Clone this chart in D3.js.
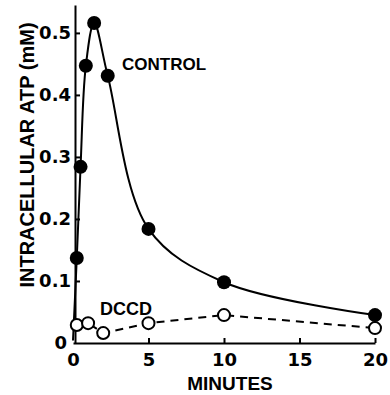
<!DOCTYPE html>
<html lang="en">
<head>
    <meta charset="UTF-8">
    <title>Intracellular ATP</title>
    <script src="https://d3js.org/d3.v7.min.js"></script>
    <style>
        body { margin: 0; background: #fff; }
        .tick text { font-family: "DejaVu Sans", sans-serif; font-weight: bold; font-size: 18px; fill: #000; }
        .lbl { font-family: "Liberation Sans", Arial, sans-serif; font-weight: bold; fill: #000; }
    </style>
</head>
<body>
<svg id="chart" width="390" height="395"></svg>
<script>
    // control cells (filled circles)
    const ctrlTime = [0.25, 0.5, 0.85, 1.4, 2.3, 5, 10, 20];
    const ctrlAtp = [0.137, 0.284, 0.447, 0.516, 0.431, 0.184, 0.098, 0.045];
    // curve starts from the origin
    const ctrlStart = [0, 0.004];

    // DCCD treated (open circles)
    const dccdTime = [0.25, 1, 2, 5, 10, 20];
    const dccdAtp = [0.029, 0.032, 0.016, 0.032, 0.045, 0.024];

    const xTicks = [0, 5, 10, 15, 20];
    const yTicks = [0, 0.1, 0.2, 0.3, 0.4, 0.5];

    const svg = d3.select("#chart");

    const x = d3.scaleLinear().domain([0, 20]).range([73, 375]);
    const y = d3.scaleLinear().domain([0, 0.545]).range([343, 5]);

    const ctrl = ctrlTime.map((t, i) => ({ t: t, v: ctrlAtp[i] }));
    const dccd = dccdTime.map((t, i) => ({ t: t, v: dccdAtp[i] }));

    // axes
    const gx = svg.append("g")
        .attr("transform", `translate(0,${y(0)})`)
        .call(d3.axisBottom(x).tickValues(xTicks).tickSize(-5).tickSizeOuter(0).tickPadding(10)
            .tickFormat(d3.format("d")));
    gx.selectAll(".tick").filter(d => d === 0).select("line").remove();

    const gy = svg.append("g")
        .attr("transform", `translate(75,0)`)
        .call(d3.axisLeft(y).tickValues(yTicks).tickSize(-5).tickSizeOuter(0).tickPadding(4)
            .tickFormat(d => d === 0 ? "0" : d.toFixed(1)));
    gy.selectAll(".tick").filter(d => d === 0).select("line").remove();
    gy.selectAll(".tick").filter(d => d === 0).select("text").attr("x", -8);

    svg.selectAll(".domain").attr("stroke", "#000").attr("stroke-width", 2);
    svg.selectAll(".tick line").attr("stroke", "#000").attr("stroke-width", 2);

    // control curve
    const line = d3.line()
        .x(d => x(d.t))
        .y(d => y(d.v))
        .curve(d3.curveCatmullRom.alpha(0.5));

    svg.append("path")
        .datum([{ t: ctrlStart[0], v: ctrlStart[1] }].concat(ctrl))
        .attr("d", line)
        .attr("fill", "none")
        .attr("stroke", "#000")
        .attr("stroke-width", 2);

    // DCCD dashed line
    svg.append("path")
        .datum(dccd)
        .attr("d", d3.line().x(d => x(d.t)).y(d => y(d.v)))
        .attr("fill", "none")
        .attr("stroke", "#000")
        .attr("stroke-width", 2)
        .attr("stroke-dasharray", "8,6");

    svg.selectAll(".dccd")
        .data(dccd)
        .enter().append("circle")
        .attr("class", "dccd")
        .attr("cx", d => x(d.t))
        .attr("cy", d => y(d.v))
        .attr("r", 6)
        .attr("fill", "#fff")
        .attr("stroke", "#000")
        .attr("stroke-width", 2);

    svg.selectAll(".ctrl")
        .data(ctrl)
        .enter().append("circle")
        .attr("class", "ctrl")
        .attr("cx", d => x(d.t))
        .attr("cy", d => y(d.v))
        .attr("r", 7)
        .attr("fill", "#000");

    // labels
    svg.append("text").attr("class", "lbl")
        .attr("x", 122).attr("y", 70)
        .style("font-size", "17px")
        .text("CONTROL");

    svg.append("text").attr("class", "lbl")
        .attr("x", 100).attr("y", 315)
        .style("font-size", "18px")
        .text("DCCD");

    svg.append("text").attr("class", "lbl")
        .attr("x", 230).attr("y", 390)
        .attr("text-anchor", "middle")
        .style("font-size", "19px")
        .text("MINUTES");

    svg.append("text").attr("class", "lbl")
        .attr("transform", "translate(34,155) rotate(-90)")
        .attr("text-anchor", "middle")
        .style("font-size", "20px")
        .text("INTRACELLULAR ATP (mM)");
</script>
</body>
</html>
